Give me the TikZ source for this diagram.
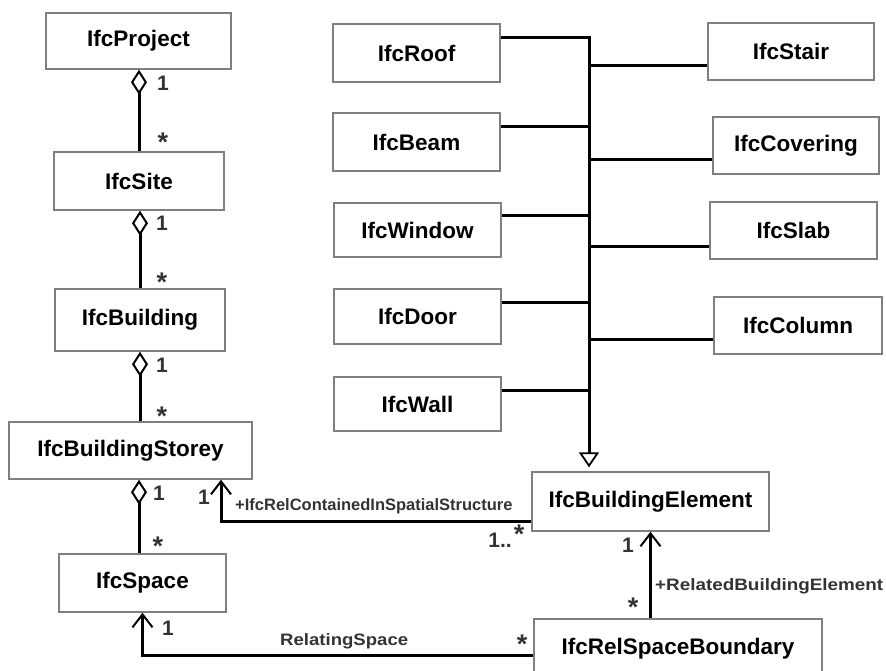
\documentclass[tikz,border=0pt]{standalone}
\usepackage{fontspec}
\setmainfont{Liberation Sans}
\usetikzlibrary{arrows.meta}
\definecolor{boxgray}{HTML}{7F7F7F}
\definecolor{lblgray}{HTML}{333333}
\tikzset{
  cls/.style={draw=boxgray, line width=1.4pt, fill=white, font=\fontsize{22.5}{24}\selectfont\bfseries, inner sep=0pt},
  conn/.style={line width=3pt, black},
  agg/.style={conn, {Diamond[open, length=25pt, width=16pt, line width=2pt]}-},
  assoc/.style={conn, -{Straight Barb[length=13pt, width=20pt, line width=2pt]}},
  gen/.style={conn, -{Triangle[open, length=15pt, width=20pt, line width=1.8pt]}, shorten >=4pt},
  mult/.style={font=\fontsize{21}{22}\selectfont\bfseries, text=lblgray, inner sep=0pt},
  star/.style={font=\fontsize{27}{28}\selectfont\bfseries, text=lblgray, inner sep=0pt, anchor=north},
  role/.style={font=\fontsize{16.5}{18}\selectfont\bfseries, text=lblgray, inner sep=0pt, anchor=base west},
}
\begin{document}
\begin{tikzpicture}[x=1pt, y=-1pt]
\useasboundingbox (0,0) rectangle (886,671);
% spatial hierarchy
\node[cls, minimum width=185pt, minimum height=56pt] (proj) at (138.5,41) {IfcProject};
\node[cls, minimum width=170pt, minimum height=58pt] (site) at (139,181) {IfcSite};
\node[cls, minimum width=170pt, minimum height=62pt] (bldg) at (140,320) {IfcBuilding};
\node[cls, minimum width=243pt, minimum height=57pt] (storey) at (130.5,450.5) {IfcBuildingStorey};
\node[cls, minimum width=167pt, minimum height=58pt] (space) at (142.5,583) {IfcSpace};
% elements left
\node[cls, minimum width=167pt, minimum height=58pt] (roof) at (416.5,53) {IfcRoof};
\node[cls, minimum width=167pt, minimum height=58pt] (beam) at (416.5,142) {IfcBeam};
\node[cls, minimum width=167pt, minimum height=54pt] (window) at (417.5,230) {IfcWindow};
\node[cls, minimum width=167pt, minimum height=55pt] (door) at (417.5,316.5) {IfcDoor};
\node[cls, minimum width=167pt, minimum height=54pt] (wall) at (417.5,404) {IfcWall};
% elements right
\node[cls, minimum width=166pt, minimum height=57pt] (stair) at (791,51.5) {IfcStair};
\node[cls, minimum width=166pt, minimum height=57pt] (covering) at (796,145.5) {IfcCovering};
\node[cls, minimum width=167pt, minimum height=57pt] (slab) at (793.5,230.5) {IfcSlab};
\node[cls, minimum width=168pt, minimum height=57pt] (column) at (798,325.5) {IfcColumn};
% building element and relation
\node[cls, minimum width=237pt, minimum height=59pt] (be) at (650.5,501.5) {IfcBuildingElement};
\node[cls, minimum width=288pt, minimum height=59pt] (rsb) at (678,648.5) {IfcRelSpaceBoundary};

% aggregations
\draw[agg] (proj.south -| site.north) -- (site.north);
\draw[agg] (site.south -| bldg.north) -- (bldg.north);
\draw[agg] ([xshift=9.5pt]storey.north |- bldg.south) -- ([xshift=9.5pt]storey.north);
\draw[agg] ([xshift=8.5pt]storey.south) -- ([xshift=8.5pt]storey.south |- space.north);
\node[mult] at (163,83) {1};
\node[star] at (163,133) {*};
\node[mult] at (162,223) {1};
\node[star] at (162,273) {*};
\node[mult] at (162,365) {1};
\node[star] at (162,407) {*};
\node[mult] at (159,493) {1};
\node[star] at (158,537) {*};

% generalization tree
\coordinate (ttop) at (589,38);
\coordinate (tbot) at ([xshift=-61.5pt]be.north);
\coordinate (rfc) at ([yshift=15pt]roof.east);
\coordinate (bmc) at ([yshift=15pt]beam.east);
\coordinate (wnc) at ([yshift=14pt]window.east);
\coordinate (drc) at ([yshift=14.5pt]door.east);
\coordinate (wlc) at ([yshift=14pt]wall.east);
\coordinate (stc) at ([yshift=-14.5pt]stair.west);
\coordinate (cvc) at ([yshift=-14.5pt]covering.west);
\coordinate (slc) at ([yshift=-15.5pt]slab.west);
\coordinate (clc) at ([yshift=-13.5pt]column.west);
\draw[gen] (rfc) -- (ttop) -- (tbot);
\draw[conn] (bmc) -- (bmc -| ttop);
\draw[conn] (wnc) -- (wnc -| ttop);
\draw[conn] (drc) -- (drc -| ttop);
\draw[conn] (wlc) -- (wlc -| ttop);
\draw[conn] (stc) -- (stc -| ttop);
\draw[conn] (cvc) -- (cvc -| ttop);
\draw[conn] (slc) -- (slc -| ttop);
\draw[conn] (clc) -- (clc -| ttop);

% containment
\draw[assoc] ([yshift=-19.5pt]be.west) -| ([xshift=90.5pt]storey.south);
\node[mult] at (204,497) {1};
\node[role] at (235,510) {+IfcRelContainedInSpatialStructure};
\node[mult, anchor=base east] at (512,547) {1..};
\node[star] at (519,525) {*};

% related building element
\draw[assoc] (be.south |- rsb.north) -- (be.south);
\node[mult] at (628,545) {1};
\node[star] at (633,598) {*};
\node[role] at (655,590) {\resizebox{228pt}{\height}{+RelatedBuildingElement}};

% relating space
\draw[assoc] ([yshift=-6.5pt]rsb.west) -| (space.south);
\node[mult] at (168,628) {1};
\node[role] at (280,645) {\resizebox{128pt}{\height}{RelatingSpace}};
\node[star] at (522,635) {*};
\end{tikzpicture}
\end{document}
